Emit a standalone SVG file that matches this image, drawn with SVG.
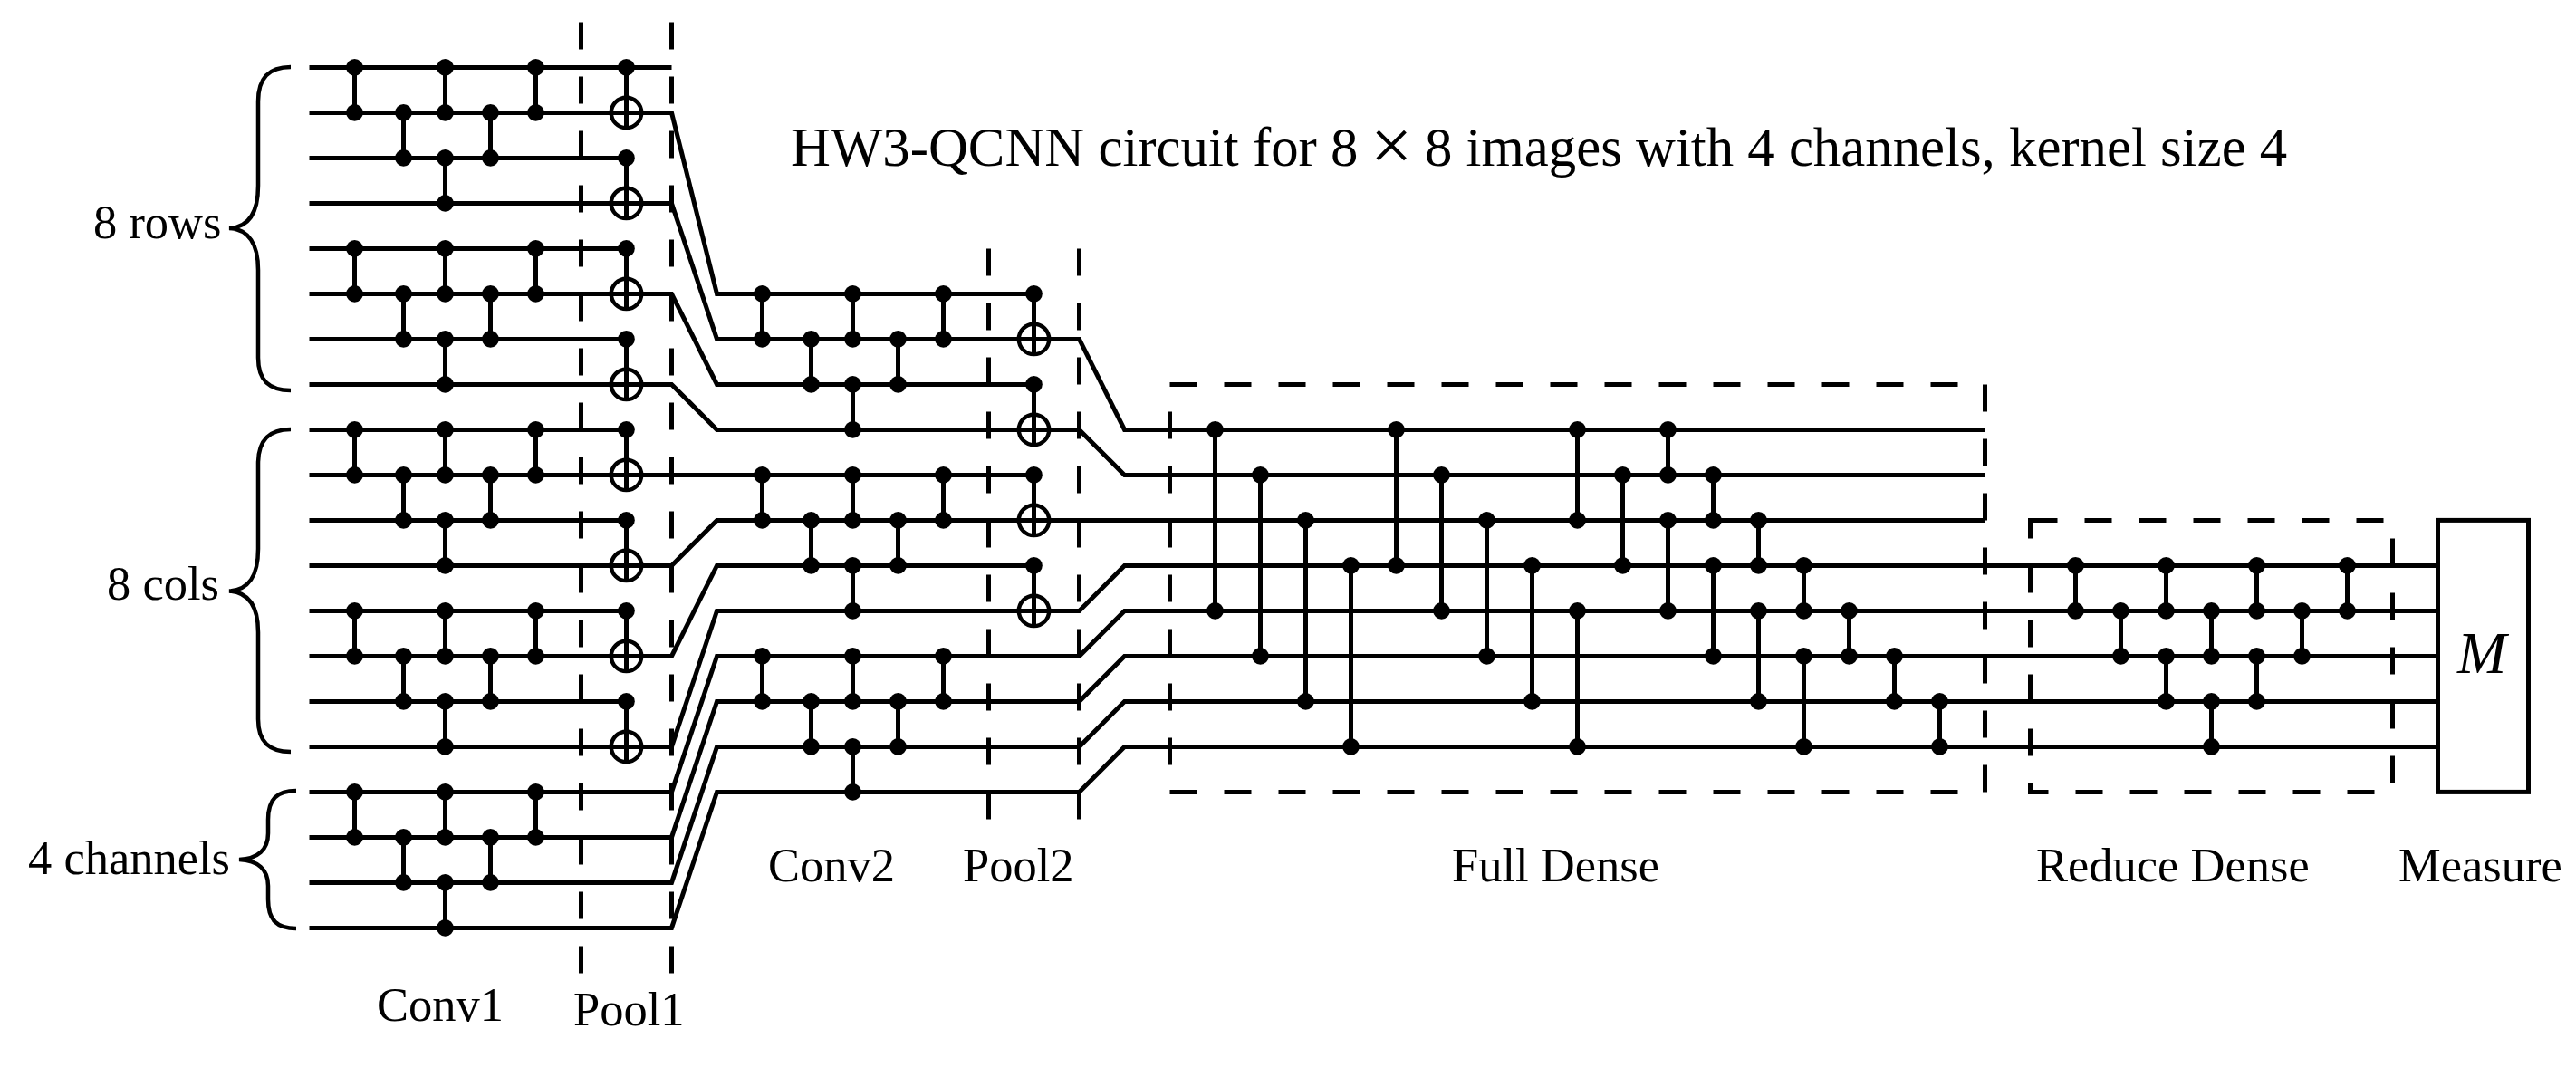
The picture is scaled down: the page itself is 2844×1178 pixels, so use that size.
<svg xmlns="http://www.w3.org/2000/svg" width="2844" height="1178" viewBox="0 0 2844 1178">
<style>
text{font-family:"Liberation Serif","Times New Roman",serif;fill:#000;font-size:52.500px}
.title{font-size:60.800px}
.times{font-size:82px}
.m{font-size:65px;font-style:italic}
.wire,.brace{fill:none;stroke:#000;stroke-width:5;stroke-linejoin:miter}
.brace{stroke-width:4.5}
.dash{fill:none;stroke:#000;stroke-width:5;stroke-dasharray:30 30}
.box{fill:#fff;stroke:#000;stroke-width:5}
.v{stroke:#000;stroke-width:5}
.ring{fill:none;stroke:#000;stroke-width:4.4}
.dot{fill:#000}
</style>
<defs>
<circle id="d" class="dot" r="9.3"/>
<g id="cz1"><line class="v" y2="50"/><use href="#d"/><use href="#d" y="50"/></g>
<g id="cz2"><line class="v" y2="100"/><use href="#d"/><use href="#d" y="100"/></g>
<g id="cz3"><line class="v" y2="150"/><use href="#d"/><use href="#d" y="150"/></g>
<g id="cz4"><line class="v" y2="200"/><use href="#d"/><use href="#d" y="200"/></g>
<g id="cnot"><line class="v" y2="67"/><use href="#d"/><circle class="ring" cy="50" r="16.700"/></g>
<g id="conv1"><use href="#cz1" x="50"/><use href="#cz1" x="104" y="50"/><use href="#cz1" x="150"/><use href="#cz1" x="150" y="100"/><use href="#cz1" x="200" y="50"/><use href="#cz1" x="250"/></g>
</defs>
<g id="connectors">
<path class="wire" d="M341.5 74.4H741.5"/>
<path class="wire" d="M341.5 124.4H741.5L791.5 324.4H1141.5"/>
<path class="wire" d="M341.5 174.4H691.5"/>
<path class="wire" d="M341.5 224.4H741.5L791.5 374.4H1191.5L1241.5 474.4H2191.5"/>
<path class="wire" d="M341.5 274.4H691.5"/>
<path class="wire" d="M341.5 324.4H741.5L791.5 424.4H1141.5"/>
<path class="wire" d="M341.5 374.4H691.5"/>
<path class="wire" d="M341.5 424.4H741.5L791.5 474.4H1191.5L1241.5 524.4H2191.5"/>
<path class="wire" d="M341.5 474.4H691.5"/>
<path class="wire" d="M341.5 524.4H1141.5"/>
<path class="wire" d="M341.5 574.4H691.5"/>
<path class="wire" d="M341.5 624.4H741.5L791.5 574.4H2191.5"/>
<path class="wire" d="M341.5 674.4H691.5"/>
<path class="wire" d="M341.5 724.4H741.5L791.5 624.4H1141.5"/>
<path class="wire" d="M341.5 774.4H691.5"/>
<path class="wire" d="M341.5 824.4H741.5L791.5 674.4H1191.5L1241.5 624.4H2691.5"/>
<path class="wire" d="M341.5 874.4H741.5L791.5 724.4H1191.5L1241.5 674.4H2691.5"/>
<path class="wire" d="M341.5 924.4H741.5L791.5 774.4H1191.5L1241.5 724.4H2691.5"/>
<path class="wire" d="M341.5 974.4H741.5L791.5 824.4H1191.5L1241.5 774.4H2691.5"/>
<path class="wire" d="M341.5 1024.4H741.5L791.5 874.4H1191.5L1241.5 824.4H2691.5"/>
</g>
<g id="boundaries">
<line class="dash" x1="641.5" y1="24.4" x2="641.5" y2="1074.4"/>
<line class="dash" x1="741.5" y1="24.4" x2="741.5" y2="1074.4"/>
<line class="dash" x1="1091.5" y1="274.4" x2="1091.5" y2="904.4"/>
<line class="dash" x1="1191.5" y1="274.4" x2="1191.5" y2="904.4"/>
<rect id="full-dense-frame" class="dash" x="1291.5" y="424.4" width="900" height="450"/>
<rect id="reduce-dense-frame" class="dash" x="2241.5" y="574.4" width="400" height="300"/>
</g>
<g id="braces">
<path class="brace" d="M321 74C297 74 285 86 285 112V205C285 235 275 251 253 252C275 253 285 270 285 298V395C285 420 297 431 321 431"/>
<path class="brace" d="M321 474C297 474 285 486 285 512V606C285 636 275 651 253 652.500C275 654 285 670 285 698V794C285 819 297 830 321 830"/>
<path class="brace" d="M327 873C306 873 296 882 296 905V920C296 938 285 948 264 949C285 950 296 960 296 978V993C296 1016 306 1025 327 1025"/>
</g>
<g id="conv1-rows-a"><use href="#conv1" x="341.5" y="74.4"/></g>
<g id="conv1-rows-b"><use href="#conv1" x="341.5" y="274.4"/></g>
<g id="conv1-cols-a"><use href="#conv1" x="341.5" y="474.4"/></g>
<g id="conv1-cols-b"><use href="#conv1" x="341.5" y="674.4"/></g>
<g id="conv1-channels"><use href="#conv1" x="341.5" y="874.4"/></g>
<g id="pool1">
<use href="#cnot" x="691.5" y="74.4"/><use href="#cnot" x="691.5" y="174.4"/><use href="#cnot" x="691.5" y="274.4"/><use href="#cnot" x="691.5" y="374.4"/>
<use href="#cnot" x="691.5" y="474.4"/><use href="#cnot" x="691.5" y="574.4"/><use href="#cnot" x="691.5" y="674.4"/><use href="#cnot" x="691.5" y="774.4"/>
</g>
<g id="conv2-a"><use href="#conv1" x="791.5" y="324.4"/></g>
<g id="conv2-b"><use href="#conv1" x="791.5" y="524.4"/></g>
<g id="conv2-c"><use href="#conv1" x="791.5" y="724.4"/></g>
<g id="pool2">
<use href="#cnot" x="1141.5" y="324.4"/><use href="#cnot" x="1141.5" y="424.4"/><use href="#cnot" x="1141.5" y="524.4"/><use href="#cnot" x="1141.5" y="624.4"/>
</g>
<g id="full-dense">
<use href="#cz4" x="1341.5" y="474.4"/><use href="#cz4" x="1391.5" y="524.4"/><use href="#cz4" x="1441.5" y="574.4"/><use href="#cz4" x="1491.5" y="624.4"/>
<use href="#cz3" x="1541.5" y="474.4"/><use href="#cz3" x="1591.5" y="524.4"/><use href="#cz3" x="1641.5" y="574.4"/><use href="#cz3" x="1691.5" y="624.4"/>
<use href="#cz2" x="1741.5" y="474.4"/><use href="#cz3" x="1741.5" y="674.4"/><use href="#cz2" x="1791.5" y="524.4"/>
<use href="#cz1" x="1841.5" y="474.4"/><use href="#cz2" x="1841.5" y="574.4"/>
<use href="#cz1" x="1891.5" y="524.4"/><use href="#cz2" x="1891.5" y="624.4"/>
<use href="#cz1" x="1941.5" y="574.4"/><use href="#cz2" x="1941.5" y="674.4"/>
<use href="#cz1" x="1991.5" y="624.4"/><use href="#cz2" x="1991.5" y="724.4"/>
<use href="#cz1" x="2041.5" y="674.4"/><use href="#cz1" x="2091.5" y="724.4"/><use href="#cz1" x="2141.5" y="774.4"/>
</g>
<g id="reduce-dense">
<use href="#cz1" x="2291.5" y="624.4"/><use href="#cz1" x="2341.500" y="674.4"/>
<use href="#cz1" x="2391.5" y="624.4"/><use href="#cz1" x="2391.5" y="724.4"/>
<use href="#cz1" x="2441.5" y="674.4"/><use href="#cz1" x="2441.5" y="774.4"/>
<use href="#cz1" x="2491.5" y="624.4"/><use href="#cz1" x="2491.5" y="724.4"/>
<use href="#cz1" x="2541.5" y="674.4"/><use href="#cz1" x="2591.5" y="624.4"/>
</g>
<g id="measure">
<rect class="box" x="2691.5" y="574.4" width="100" height="300"/>
<text class="m" x="2713" y="743">M</text>
</g>
<text class="title" x="873" y="183">HW3-QCNN circuit for 8 <tspan class="times" x="1513" y="188">×</tspan> <tspan x="1573" y="183">8 images with 4 channels, kernel size 4</tspan></text>
<text x="103" y="263">8 rows</text>
<text x="118" y="662">8 cols</text>
<text x="31" y="964.500">4 channels</text>
<text x="416" y="1126.500">Conv1</text>
<text x="633" y="1132">Pool1</text>
<text x="848" y="972.500">Conv2</text>
<text x="1063" y="972.500">Pool2</text>
<text x="1603" y="972.500">Full Dense</text>
<text x="2248" y="972.500">Reduce Dense</text>
<text x="2648" y="972.500">Measure</text>
</svg>
